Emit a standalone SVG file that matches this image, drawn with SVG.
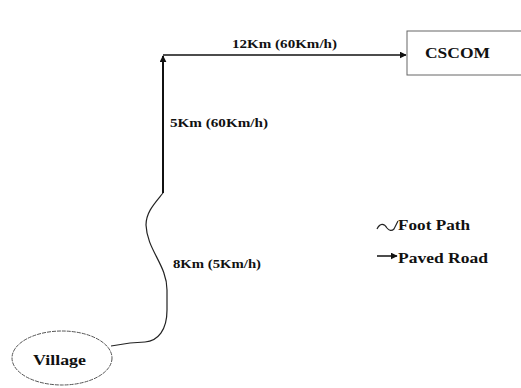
<svg xmlns="http://www.w3.org/2000/svg" width="521" height="388" viewBox="0 0 521 388">
  <style>
    .t { font-family: "Liberation Serif", "Times New Roman", serif; font-weight: bold; fill: #111; }
    .road { stroke: #111; fill: none; }
    .foot { stroke: #222; fill: none; stroke-width: 1.2; }
    .box { fill: #fff; stroke: #666; stroke-width: 1; }
    .oval { fill: #fff; stroke: #555; stroke-width: 1; stroke-dasharray: 4 1; }
  </style>
  <defs>
    <marker id="arr" viewBox="0 0 10 10" refX="9" refY="5" markerWidth="7" markerHeight="7" orient="auto" markerUnits="userSpaceOnUse">
      <path d="M0,0 L10,5 L0,10 Z" fill="#111"/>
    </marker>
  </defs>
  <rect width="521" height="388" fill="#fff"/>

  <g id="connectors">
    <path class="foot" d="M163,193 C155,203 146,212 146,225 C147,250 167,265 167,290 L167,310 C167,330 158,341 145,342 L130,343 L111,346"/>
    <line class="road" x1="163" y1="193" x2="163" y2="56" stroke-width="2" marker-end="url(#arr)"/>
    <line class="road" x1="163" y1="55" x2="406" y2="55" stroke-width="1.5" marker-end="url(#arr)"/>
    <text class="t" x="232" y="48" font-size="13" textLength="105" lengthAdjust="spacingAndGlyphs">12Km (60Km/h)</text>
    <text class="t" x="170" y="127" font-size="13" textLength="98" lengthAdjust="spacingAndGlyphs">5Km (60Km/h)</text>
    <text class="t" x="173" y="268" font-size="13" textLength="88" lengthAdjust="spacingAndGlyphs">8Km (5Km/h)</text>
  </g>

  <g id="node-cscom">
    <rect class="box" x="407" y="31" width="150" height="44"/>
    <text class="t" x="425" y="58" font-size="15" textLength="65" lengthAdjust="spacingAndGlyphs">CSCOM</text>
  </g>

  <g id="node-village">
    <ellipse class="oval" cx="62" cy="358" rx="50" ry="27"/>
    <text class="t" x="33" y="365" font-size="15" textLength="53" lengthAdjust="spacingAndGlyphs">Village</text>
  </g>

  <g id="legend">
    <path class="foot" d="M377,229 C380,223 384,223 387,228 C389,231 392,231 394,229 L398,221"/>
    <text class="t" x="398" y="230" font-size="15" textLength="72" lengthAdjust="spacingAndGlyphs">Foot Path</text>
    <line class="road" x1="377" y1="256" x2="397" y2="256" stroke-width="1.5" marker-end="url(#arr)"/>
    <text class="t" x="398" y="263" font-size="15" textLength="90" lengthAdjust="spacingAndGlyphs">Paved Road</text>
  </g>
</svg>
